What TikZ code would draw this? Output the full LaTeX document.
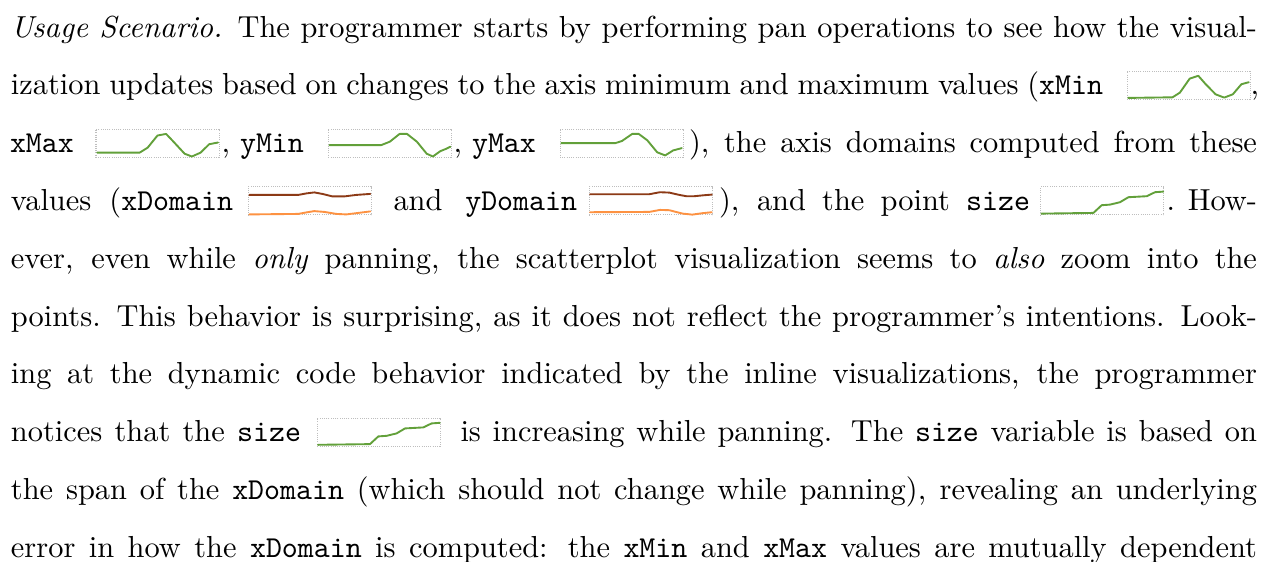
\documentclass[tikz,border=0pt]{standalone}
% one unit of the drawing grid
\newdimen\pxu \pxu=0.329pt
\definecolor{sparkgreen}{RGB}{98,160,58}
\definecolor{domaindark}{RGB}{140,58,22}
\definecolor{domainlight}{RGB}{253,146,66}
\definecolor{sparkframe}{RGB}{190,190,190}
\tikzset{
  textline/.style={anchor=base west, inner sep=0pt, outer sep=0pt, font=\fontsize{10}{12}\selectfont},
  sparkbox/.style={draw=sparkframe, line width=0.33pt, dash pattern=on 0.33pt off 0.4pt,
    minimum width=123*\pxu, minimum height=28*\pxu, inner sep=0pt, outer sep=0pt, anchor=north west},
  trace/.style={line width=0.62pt, line join=round, line cap=round},
}
% data of the inline charts, in grid units from the frame's top left corner
\def\xmindata{(1.2,26.6) (45.5,26) (52.9,21.3) (62.7,7.3) (71.3,4.5) (78.7,12.9) (88.6,23) (97.2,26.3) (105.8,23) (114.4,12.9) (121.8,10.9)}
\def\xmaxdata{(1.2,23.5) (43.7,23.5) (51.7,18.5) (61.5,6.4) (70.1,4.8) (77.5,12.6) (88.6,24.6) (95.9,27.4) (104.6,23.5) (113.2,15.1) (122,13.4)}
\def\ymindata{(1.2,16) (52.9,16) (61.5,12.6) (71.3,4.8) (78.7,4.8) (88.6,12.6) (98.4,24.6) (104.6,27.4) (111.9,22.1) (118.1,19.6) (122,17.6)}
\def\ymaxdata{(1.2,14) (55.4,14) (62.1,11.8) (72.2,4.8) (78.7,4.8) (87.3,11.2) (97.2,23.2) (105.2,26.3) (113.2,21.3) (121.8,19)}
\def\xdomhi{(1,8) (50,8) (58,6.5) (66,5.5) (74,7) (84,9.5) (96,9.5) (108,8) (122,7)}
\def\xdomlo{(1,27.5) (50,27) (58,25.5) (66,24.2) (76,25) (88,27) (98,27.5) (110,26) (122,24.5)}
\def\ydomhi{(0.7,7.3) (60,7.3) (70.7,5.3) (80,5.7) (90,8) (97,9.3) (105,9.3) (115,8.3) (122.5,7.7)}
\def\ydomlo{(0.7,25.3) (60,25) (70.7,23) (80,23.3) (93.3,26.7) (103,27.7) (113,26.3) (122.5,25.3)}
\def\sizedata{(0.7,26.7) (52.7,26) (61,18.3) (69.3,17.7) (79.3,15.3) (87.7,10.3) (106,9.3) (114.3,5.3) (122.5,4.7)}
\begin{document}
\begin{tikzpicture}[x=0.329pt, y=-0.329pt]
\useasboundingbox (0,0) rectangle (1262,561);
\fill[white] (0,0) rectangle (1262,561);

% line 1
\node[textline] (l1) at (11,37) {\makebox[1246\pxu][s]{\emph{Usage Scenario.} The programmer starts by performing pan operations to see how the visual-}};

% line 2
\node[textline] (l2a) at (11,94.8) {\makebox[1092\pxu][s]{ization updates based on changes to the axis minimum and maximum values (\texttt{xMin}}};
\node[sparkbox] (xminbox) at (1127,71.3) {};
\node[textline] (l2b) at (1250.5,94.8) {,};

% line 3
\node[textline] (l3a) at (10,152.6) {\texttt{xMax}};
\node[sparkbox] (xmaxbox) at (96,129.1) {};
\node[textline] (l3b) at (221.5,152.6) {, \texttt{yMin}};
\node[sparkbox] (yminbox) at (328.3,129.1) {};
\node[textline] (l3c) at (453.5,152.6) {, \texttt{yMax}};
\node[sparkbox] (ymaxbox) at (560,129.1) {};
\node[textline] (l3d) at (689,152.6) {\makebox[568\pxu][s]{), the axis domains computed from these}};

% line 4
\node[textline] (l4a) at (11,210.4) {\makebox[222\pxu][s]{values (\texttt{xDomain}}};
\node[sparkbox] (xdombox) at (248.3,186.9) {};
\node[textline] (l4b) at (393.5,210.4) {\makebox[183.5\pxu][s]{and \texttt{yDomain}}};
\node[sparkbox] (ydombox) at (589.3,186.9) {};
\node[textline] (l4c) at (719,210.4) {\makebox[311\pxu][s]{), and the point \texttt{size}}};
\node[sparkbox] (sizebox) at (1040.7,186.9) {};
\node[textline] (l4d) at (1166.5,210.4) {\makebox[90.5\pxu][s]{. How-}};

% lines 5 to 7
\node[textline] (l5) at (11,268.2) {\makebox[1246\pxu][s]{ever, even while \emph{only} panning, the scatterplot visualization seems to \emph{also} zoom into the}};
\node[textline] (l6) at (11,326) {\makebox[1246\pxu][s]{points. This behavior is surprising, as it does not reflect the programmer’s intentions. Look-}};
\node[textline] (l7) at (11,383.8) {\makebox[1246\pxu][s]{ing at the dynamic code behavior indicated by the inline visualizations, the programmer}};

% line 8
\node[textline] (l8a) at (11,441.6) {\makebox[290\pxu][s]{notices that the \texttt{size}}};
\node[sparkbox] (sizebox2) at (317.3,418.1) {};
\node[textline] (l8b) at (460.5,441.6) {\makebox[796.5\pxu][s]{is increasing while panning. The \texttt{size} variable is based on}};

% lines 9 and 10
\node[textline] (l9) at (11,499.4) {\makebox[1246\pxu][s]{the span of the \texttt{xDomain} (which should not change while panning), revealing an underlying}};
\node[textline] (l10) at (11,557.2) {\makebox[1246\pxu][s]{error in how the \texttt{xDomain} is computed: the \texttt{xMin} and \texttt{xMax} values are mutually dependent}};

% traces inside the inline charts
\draw[trace, sparkgreen, shift={(xminbox.north west)}] plot coordinates {\xmindata};
\draw[trace, sparkgreen, shift={(xmaxbox.north west)}] plot coordinates {\xmaxdata};
\draw[trace, sparkgreen, shift={(yminbox.north west)}] plot coordinates {\ymindata};
\draw[trace, sparkgreen, shift={(ymaxbox.north west)}] plot coordinates {\ymaxdata};
\draw[trace, domaindark, shift={(xdombox.north west)}] plot coordinates {\xdomhi};
\draw[trace, domainlight, shift={(xdombox.north west)}] plot coordinates {\xdomlo};
\draw[trace, domaindark, shift={(ydombox.north west)}] plot coordinates {\ydomhi};
\draw[trace, domainlight, shift={(ydombox.north west)}] plot coordinates {\ydomlo};
\draw[trace, sparkgreen, shift={(sizebox.north west)}] plot coordinates {\sizedata};
\draw[trace, sparkgreen, shift={(sizebox2.north west)}] plot coordinates {\sizedata};
\end{tikzpicture}
\end{document}
